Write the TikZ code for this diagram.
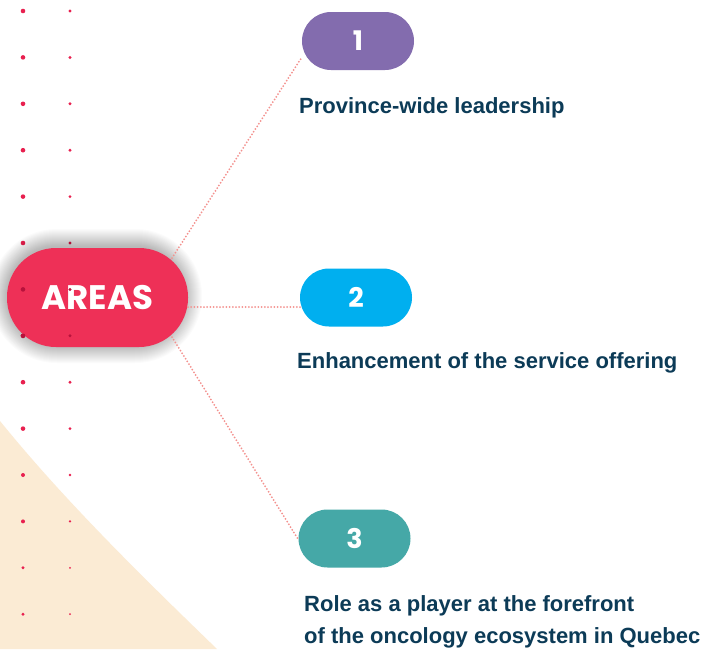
\documentclass[tikz,border=0pt]{standalone}
\usepackage{fontspec}
\setmainfont{Liberation Sans}
\newfontfamily\pop{Poppins}
\definecolor{areasred}{HTML}{EE3057}
\definecolor{purp}{HTML}{836CAE}
\definecolor{skyb}{HTML}{00AFEF}
\definecolor{tealc}{HTML}{45A8A7}
\definecolor{navy}{HTML}{0C3B57}
\definecolor{beige}{HTML}{FBEBD4}
\definecolor{dotred}{HTML}{E8204F}
\definecolor{dotdark}{HTML}{B8123C}
\definecolor{linkc}{HTML}{F4918E}
\tikzset{
  pill/.style={rectangle, rounded corners=29pt, minimum width=112pt, minimum height=58pt, inner sep=0pt,
    text=white, font=\pop\bfseries\fontsize{27}{27}\selectfont},
  lbl/.style={anchor=base west, inner sep=0pt, text=navy, font=\bfseries\fontsize{22}{26}\selectfont, align=left},
  link/.style={draw=linkc, line width=2pt, line cap=round, dash pattern=on 0pt off 3.2pt},
}
\begin{document}
\begin{tikzpicture}[x=1pt,y=-1pt]
\useasboundingbox (0,0) rectangle (704,649);
\fill[white] (0,0) rectangle (704,649);
% beige shape
\fill[beige] (0,421) .. controls (60,495) and (130,565) .. (217,649) -- (0,649) -- cycle;
% dots
\foreach \k in {0,...,13}{
  \pgfmathsetmacro{\yy}{11+46.4*\k}
  \pgfmathsetmacro{\ra}{\k<10 ? 2.3 : (\k<12 ? 2.0 : 1.6)}
  \pgfmathsetmacro{\rb}{\k<10 ? 1.6 : (\k<12 ? 1.3 : 1.0)}
  \fill[dotred] (23,\yy) circle (\ra pt);
  \fill[dotred] (70,\yy) circle (\rb pt);
}
% soft shadow of AREAS
\foreach \i in {1,...,18}{
  \fill[black, opacity=0.014, rounded corners=49pt+\i pt]
    (7-\i+1,248-\i-1) rectangle (188+\i-4,347+\i-2);
}
% AREAS node
\node[rectangle, rounded corners=49pt, minimum width=181pt, minimum height=99pt, inner sep=0pt,
  fill=areasred, text=white, font=\pop\bfseries\fontsize{34}{34}\selectfont]
  (areas) at (97.5,297.5) {AREAS};
% dots over the pill
\foreach \yy in {289.4,335.8}{
  \fill[dotdark] (23,\yy) circle (2.3pt);
  \fill[dotdark] (70,\yy) circle (1.6pt);
}
% number pills
\node[pill, fill=purp] (p1) at (358,41) {1};
\node[pill, fill=skyb] (p2) at (356,297.5) {2};
\node[pill, fill=tealc] (p3) at (354.5,538.5) {3};
% connector end points on borders
\coordinate (a1) at (172,258);
\coordinate (a2) at (188,307);
\coordinate (a3) at (172,337);
\coordinate (b1) at (302,57);
\coordinate (b2) at (300,307);
\coordinate (b3) at (298,539);
\draw[link] (a1) -- (b1);
\draw[link] (a2) -- (b2);
\draw[link] (a3) -- (b3);
% labels
\node[lbl] (l1) at (299,113) {Province-wide leadership};
\node[lbl] (l2) at (297,368) {Enhancement of the service offering};
\node[lbl] (l3a) at (304,611) {Role as a player at the forefront};
\node[lbl] (l3b) at (304,643) {of the oncology ecosystem in Quebec};
\end{tikzpicture}
\end{document}
